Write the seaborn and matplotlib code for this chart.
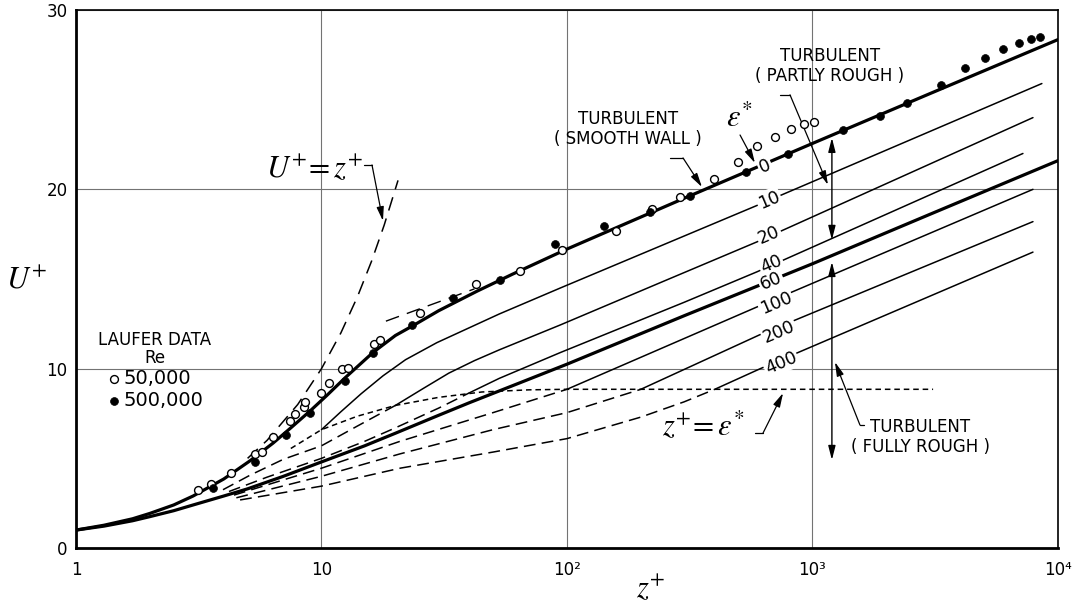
import matplotlib
matplotlib.use("Agg")
import matplotlib.pyplot as plt
from matplotlib.ticker import NullLocator
import seaborn as sns

# ---- curves (z+, U+) ----
smooth_z = [1, 1.3, 1.7, 2, 2.5, 3, 4, 5.1, 6.35, 7.5, 9, 10.5, 12.5, 16.2, 20, 23.6,
            30, 43, 60, 100, 300, 1000, 3000, 10000]
smooth_u = [1.0, 1.27, 1.63, 1.93, 2.4, 2.9, 3.85, 4.85, 5.85, 6.7, 7.65, 8.5, 9.5, 10.9,
            11.85, 12.4, 13.23, 14.32, 15.27, 16.67, 19.5, 22.56, 25.33, 28.35]

rough60_z = [1, 1.3, 1.7, 2, 2.5, 3, 4, 5, 7, 10, 15, 20, 30, 40, 60, 100, 300, 1000, 3000, 10000]
rough60_u = [1.0, 1.22, 1.52, 1.75, 2.08, 2.4, 2.9, 3.3, 4.0, 4.8, 5.7, 6.4, 7.4, 8.1, 9.05,
             10.25, 12.95, 15.85, 18.6, 21.6]

rough10_z = [10, 12, 14.5, 17.8, 22, 29.5, 53, 94, 594, 8600]
rough10_u = [6.6, 7.6, 8.6, 9.6, 10.5, 11.45, 13.05, 14.5, 19.1, 25.9]

rough20_z = [20, 26, 33, 42, 53, 94, 250, 594, 7910]
rough20_u = [7.95, 8.9, 9.75, 10.45, 11.05, 12.44, 14.9, 17.07, 24.0]

rough40_z = [40, 53, 94, 300, 594, 7200]
rough40_u = [8.65, 9.46, 10.9, 13.7, 15.4, 22.0]

rough100_z = [100, 594, 7910]
rough100_u = [8.85, 13.44, 20.0]
rough200_z = [200, 612, 7910]
rough200_u = [8.85, 11.9, 18.2]
rough400_z = [400, 613, 7910]
rough400_u = [8.85, 10.0, 16.5]

# dashed parts below z+ = eps*
dash20_z = [3.97, 5.1, 7, 10, 14, 20]
dash20_u = [3.25, 4.05, 4.95, 5.7, 6.8, 7.95]
dash40_z = [4.2, 6, 10, 15, 20, 30, 40]
dash40_u = [3.15, 3.95, 5.0, 5.95, 6.7, 7.8, 8.65]
dash100_z = [4.4, 7, 10, 20.9, 50, 100]
dash100_u = [2.95, 3.8, 4.45, 5.95, 7.55, 8.85]
dash200_z = [4.5, 10, 20.9, 50, 100, 200]
dash200_u = [2.8, 4.0, 5.25, 6.6, 7.55, 8.85]
dash400_z = [4.66, 10, 20.9, 50, 100, 200, 300, 400]
dash400_u = [2.68, 3.45, 4.45, 5.35, 6.1, 7.3, 8.15, 8.85]

# locus z+ = eps*
locus_z = [7.5, 10, 14, 20, 30, 45, 70, 100, 3100]
locus_u = [5.55, 6.6, 7.35, 7.95, 8.4, 8.7, 8.82, 8.85, 8.85]

# U+ = z+ and log-law extension
linear_z = [5, 6, 8, 10, 12, 14, 16, 18, 20.5]
linear_u = [5, 6, 8, 10, 12, 14, 16, 18, 20.5]
loglaw_z = [18.3, 42]
loglaw_u = [12.65, 14.45]

# Laufer data
open_z = [3.15, 3.54, 4.28, 5.36, 5.7, 6.35, 7.44, 7.8, 8.5, 8.58, 10.0, 10.7, 12.1, 12.8,
          16.4, 17.3, 25.2, 42.6, 64.3, 95.5, 159, 222, 290, 396, 498, 596, 704, 814, 924, 1013]
open_u = [3.23, 3.55, 4.17, 5.22, 5.37, 6.2, 7.08, 7.5, 7.88, 8.16, 8.66, 9.22, 9.97, 10.06,
          11.4, 11.6, 13.1, 14.7, 15.47, 16.6, 17.7, 18.9, 19.56, 20.6, 21.5, 22.4, 22.9,
          23.35, 23.65, 23.74]
filled_z = [3.62, 5.36, 7.2, 8.97, 12.5, 16.2, 23.4, 34.2, 53.3, 89.3, 141, 218, 317, 537,
            796, 1335, 1877, 2434, 3325, 4187, 5067, 5994, 6949, 7760, 8465]
filled_u = [3.33, 4.78, 6.3, 7.51, 9.33, 10.9, 12.44, 13.93, 14.95, 16.95, 17.96, 18.76,
            19.63, 20.95, 21.97, 23.31, 24.09, 24.84, 25.82, 26.79, 27.31, 27.83, 28.15,
            28.39, 28.52]

eps_labels = ['0', '10', '20', '40', '60', '100', '200', '400']
eps_label_z = [640, 665, 665, 678, 678, 710, 731, 745]
eps_label_u = [21.3, 19.41, 17.46, 15.84, 14.89, 13.66, 12.05, 10.32]

xtick_vals = [1, 10, 100, 1000, 10000]
xtick_labels = ['1', '10', '10²', '10³', '10⁴']
ytick_vals = [0, 10, 20, 30]

sns.set_style('white')
plt.rcParams['font.family'] = ['DejaVu Sans']
plt.rcParams['mathtext.fontset'] = 'stix'
plt.rcParams['lines.scale_dashes'] = False
plt.rcParams['text.color'] = 'black'

fig = plt.figure(figsize=(10.78, 6.03), dpi=100)
ax = fig.add_axes([0.0705, 0.0912, 0.9109, 0.8922])
ax.set_xscale('log')

LONG = (0, (8.5, 4.5))
SHORT = (0, (4, 2.8))


def curve(z, u, lw=1.0, ls='-'):
    sns.lineplot(x=z, y=u, ax=ax, color='black', lw=lw, linestyle=ls,
                 sort=False, estimator=None, zorder=2)


curve(smooth_z, smooth_u, lw=2.3)
curve(rough60_z, rough60_u, lw=2.3)
for z, u in [(rough10_z, rough10_u), (rough20_z, rough20_u), (rough40_z, rough40_u),
             (rough100_z, rough100_u), (rough200_z, rough200_u), (rough400_z, rough400_u)]:
    curve(z, u, lw=1.1)
for z, u in [(dash20_z, dash20_u), (dash40_z, dash40_u), (dash100_z, dash100_u),
             (dash200_z, dash200_u), (dash400_z, dash400_u)]:
    curve(z, u, lw=1.1, ls=LONG)
curve(locus_z, locus_u, lw=1.1, ls=SHORT)
curve(linear_z, linear_u, lw=1.1, ls=(0, (10, 6)))
curve(loglaw_z, loglaw_u, lw=1.0, ls=(0, (10, 6)))

sns.scatterplot(x=open_z, y=open_u, ax=ax, s=32, facecolor='white', edgecolor='black',
                linewidth=1.0, zorder=4, label='50,000')
sns.scatterplot(x=filled_z, y=filled_u, ax=ax, s=32, color='black', edgecolor='black',
                linewidth=0.5, zorder=4, label='500,000')

ax.set_xlim(1, 1e4)
ax.set_ylim(0, 30)
ax.set_xlabel('')
ax.set_ylabel('')
ax.set_xticks(xtick_vals)
ax.set_xticklabels(xtick_labels)
ax.xaxis.set_minor_locator(NullLocator())
ax.set_yticks(ytick_vals)
ax.tick_params(length=0, labelsize=12, colors='black')
ax.tick_params(axis='x', pad=9)
ax.tick_params(axis='y', pad=6)
ax.grid(True, color='0.45', lw=0.8)
for side in ['left', 'bottom']:
    ax.spines[side].set_linewidth(2.0)
for side in ['top', 'right']:
    ax.spines[side].set_linewidth(1.2)
for sp in ax.spines.values():
    sp.set_color('black')

leg = ax.legend(title='LAUFER DATA\nRe', loc='center', bbox_to_anchor=(0.08, 0.33),
                frameon=False, fontsize=14, title_fontsize=12, handletextpad=0.05,
                handlelength=0.9, borderpad=0, labelspacing=0.15)
leg.get_title().set_multialignment('center')
leg.get_title().set_linespacing(1.0)
for t in leg.get_texts():
    t.set_color('black')

# roughness labels along the curves
for t, z, u in zip(eps_labels, eps_label_z, eps_label_u):
    ax.text(z, u, t, rotation=23, rotation_mode='anchor', ha='center', va='center',
            fontsize=12.5, zorder=5,
            bbox=dict(boxstyle='square,pad=0.08', fc='white', ec='none'))

arrow = dict(arrowstyle='-|>,head_length=0.7,head_width=0.18', color='black', lw=0.9,
             shrinkA=0, shrinkB=0, mutation_scale=12)
darrow = dict(arrowstyle='<|-|>,head_length=0.7,head_width=0.18', color='black', lw=1.0,
              shrinkA=0, shrinkB=0, mutation_scale=12)

# U+ = z+
ax.text(9.32, 21.2, r'$U^{+}\!= z^{+}$', fontsize=22, ha='center', va='center')
ax.plot([14.9, 16.06], [21.36, 21.36], color='black', lw=0.9)
ax.annotate('', xy=(17.8, 18.24), xytext=(16.06, 21.36), arrowprops=arrow)

# smooth wall
ax.text(177, 23.37, 'TURBULENT\n( SMOOTH WALL )', fontsize=12, ha='center', va='center',
        linespacing=1.1)
ax.plot([263, 297], [21.75, 21.75], color='black', lw=0.9)
ax.annotate('', xy=(354.6, 20.13), xytext=(297, 21.75), arrowprops=arrow)

# eps*
ax.text(502, 23.98, r'$\varepsilon^{*}$', fontsize=22, ha='center', va='center')
ax.annotate('', xy=(583, 21.47), xytext=(507, 23.03), arrowprops=arrow)

# partly rough
ax.text(1178, 26.88, 'TURBULENT\n( PARTLY ROUGH )', fontsize=12, ha='center', va='center',
        linespacing=1.1)
ax.plot([737, 810], [25.27, 25.27], color='black', lw=0.9)
ax.annotate('', xy=(1156, 20.25), xytext=(810, 25.27), arrowprops=arrow)

# vertical ranges
ax.annotate('', xy=(1200, 22.87), xytext=(1200, 17.18), arrowprops=darrow)
ax.annotate('', xy=(1200, 15.95), xytext=(1200, 4.91), arrowprops=darrow)

# fully rough
ax.text(2742, 6.19, 'TURBULENT\n( FULLY ROUGH )', fontsize=12, ha='center', va='center',
        linespacing=1.1)
ax.plot([1561, 1621], [6.86, 6.86], color='black', lw=0.9)
ax.annotate('', xy=(1235, 10.37), xytext=(1561, 6.86), arrowprops=arrow)

# z+ = eps*
ax.text(358, 6.86, r'$z^{+}\!= \varepsilon^{*}$', fontsize=22, ha='center', va='center')
ax.plot([583, 629], [6.41, 6.41], color='black', lw=0.9)
ax.annotate('', xy=(759, 8.64), xytext=(629, 6.41), arrowprops=arrow)

fig.text(0.025, 0.536, r'$U^{+}$', fontsize=22, ha='center', va='center')
fig.text(0.604, 0.025, r'$z^{+}$', fontsize=22, ha='center', va='center')

fig.savefig('out.png', dpi=100)
